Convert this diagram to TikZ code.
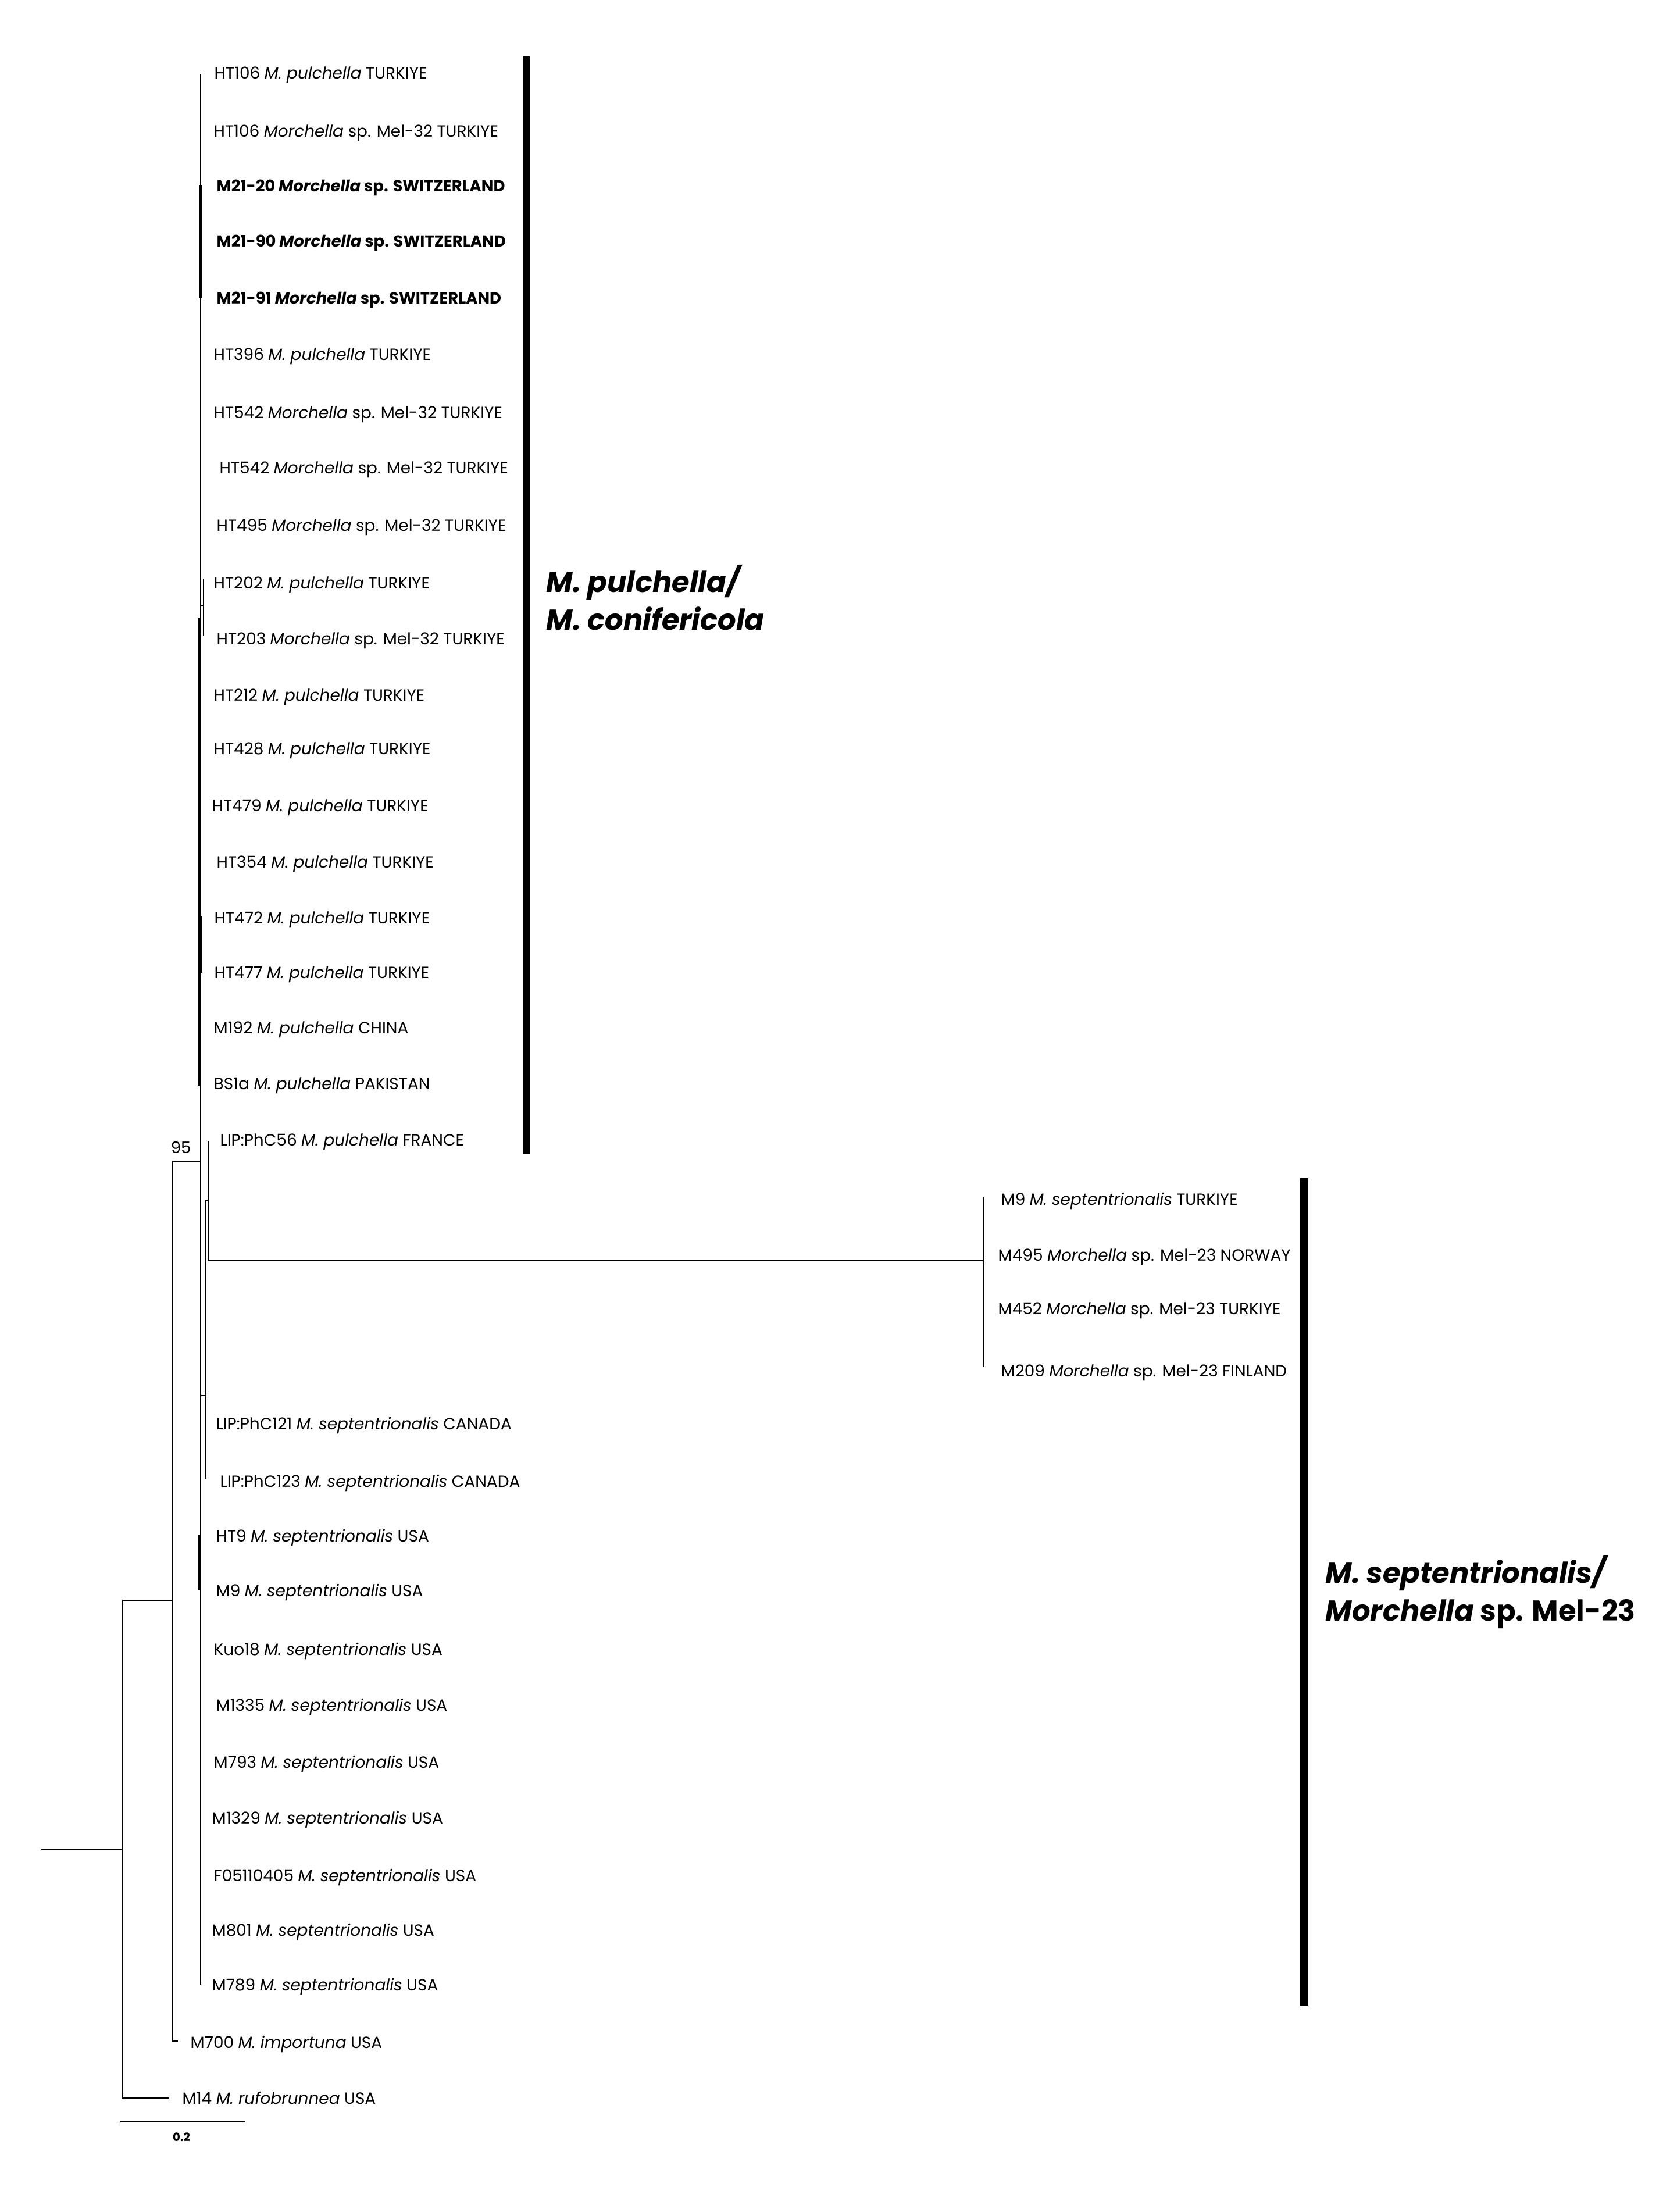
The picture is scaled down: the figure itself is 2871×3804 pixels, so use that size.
\documentclass[tikz,border=0pt]{standalone}
\usepackage{fontspec}
\setmainfont{Poppins}

\newcommand{\mpul}{\textit{M. pulchella}}
\newcommand{\msept}{\textit{M. septentrionalis}}
\newcommand{\morsp}{\textit{Morchella} sp.}

\begin{document}
\begin{tikzpicture}[x=0.01cm, y=-0.01cm,
    branch/.style={line width=0.7pt},
    dense/.style={line width=1.5pt},
    taxon/.style={anchor=base west, inner sep=0pt, font=\fontsize{7.95}{9.5}\selectfont},
    ourtaxon/.style={taxon, font=\fontsize{7.8}{9.5}\selectfont\bfseries},
    cladename/.style={anchor=base west, inner sep=0pt, font=\fontsize{14.1}{17}\selectfont\bfseries\itshape}]
    % Page
    \fill[white] (0,0) rectangle (2871,3804);
    \useasboundingbox (0,0) rectangle (2871,3804);

    % Internal nodes
    \coordinate (root) at (71,3181);
    \coordinate (nE) at (211,3181);
    \coordinate (nD) at (297,2752);
    \coordinate (nC) at (345,1997);
    \coordinate (cTop) at (345,127);
    \coordinate (cBot) at (345,3413);
    \coordinate (nP) at (350,1042);
    \coordinate (pTop) at (350,995);
    \coordinate (pBot) at (350,1093);
    \coordinate (nB) at (354,2400);
    \coordinate (bTop) at (354,2064);
    \coordinate (bBot) at (354,2543);
    \coordinate (aTop) at (358,1962);
    \coordinate (aBot) at (358,2168);
    \coordinate (nMel) at (1691,2168);
    \coordinate (melTop) at (1691,2058);
    \coordinate (melBot) at (1691,2350);
    \coordinate (tipImp) at (306,3510);
    \coordinate (tipRuf) at (290,3608);

    % Branches
    \draw[branch] (root) -- (nE);
    \draw[branch] (nD) -| (nE) |- (tipRuf);
    \draw[branch] (nC) -| (nD) |- (tipImp);
    \draw[branch] (cTop) -- (cBot);
    \draw[branch] (nC |- nP) -- (nP);
    \draw[branch] (pTop) -- (pBot);
    \draw[branch] (nC |- nB) -- (nB);
    \draw[branch] (bTop) -- (bBot);
    \draw[branch] (bTop) -- (aTop |- bTop);
    \draw[branch] (aTop) -- (aBot) -- (nMel);
    \draw[branch] (melTop) -- (melBot);

    % Near-zero branches stacked on the backbone
    \draw[dense] (345,318) -- (345,513);
    \draw[dense] (343,1063) -- (343,1867);
    \draw[line width=2.2pt] (344,1575) -- (344,1673);
    \draw[dense] (343,2640) -- (343,2735);

    % Support value
    \node[anchor=base east, inner sep=0pt, font=\fontsize{7.8}{9}\selectfont] (bs95) at (329,1983) {95};

    % Taxa
    \node[taxon] (t1) at (368,136) {HT106 \mpul{} TURKIYE};
    \node[taxon] (t2) at (367,236) {HT106 \morsp{} Mel-32 TURKIYE};
    \node[ourtaxon] (t3) at (372,330) {M21-20 \morsp{} SWITZERLAND};
    \node[ourtaxon] (t4) at (372,425) {M21-90 \morsp{} SWITZERLAND};
    \node[ourtaxon] (t5) at (372,523) {M21-91 \morsp{} SWITZERLAND};
    \node[taxon] (t6) at (367,620) {HT396 \mpul{} TURKIYE};
    \node[taxon] (t7) at (367,720) {HT542 \morsp{} Mel-32 TURKIYE};
    \node[taxon] (t8) at (377,815) {HT542 \morsp{} Mel-32 TURKIYE};
    \node[taxon] (t9) at (372,914) {HT495 \morsp{} Mel-32 TURKIYE};
    \node[taxon] (t10) at (367,1012) {HT202 \mpul{} TURKIYE};
    \node[taxon] (t11) at (372,1108) {HT203 \morsp{} Mel-32 TURKIYE};
    \node[taxon] (t12) at (367,1205) {HT212 \mpul{} TURKIYE};
    \node[taxon] (t13) at (367,1297) {HT428 \mpul{} TURKIYE};
    \node[taxon] (t14) at (364,1395) {HT479 \mpul{} TURKIYE};
    \node[taxon] (t15) at (372,1492) {HT354 \mpul{} TURKIYE};
    \node[taxon] (t16) at (368,1588) {HT472 \mpul{} TURKIYE};
    \node[taxon] (t17) at (368,1682) {HT477 \mpul{} TURKIYE};
    \node[taxon] (t18) at (367,1777) {M192 \mpul{} CHINA};
    \node[taxon] (t19) at (367,1873) {BS1a \mpul{} PAKISTAN};
    \node[taxon] (t20) at (378,1970) {LIP:PhC56 \mpul{} FRANCE};
    \node[taxon] (t21) at (1721,2072) {M9 \msept{} TURKIYE};
    \node[taxon] (t22) at (1716,2168) {M495 \morsp{} Mel-23 NORWAY};
    \node[taxon] (t23) at (1716,2260) {M452 \morsp{} Mel-23 TURKIYE};
    \node[taxon] (t24) at (1721,2367) {M209 \morsp{} Mel-23 FINLAND};
    \node[taxon] (t25) at (371,2458) {LIP:PhC121 \msept{} CANADA};
    \node[taxon] (t26) at (378,2557) {LIP:PhC123 \msept{} CANADA};
    \node[taxon] (t27) at (371,2651) {HT9 \msept{} USA};
    \node[taxon] (t28) at (371,2745) {M9 \msept{} USA};
    \node[taxon] (t29) at (367,2846) {Kuo18 \msept{} USA};
    \node[taxon] (t30) at (371,2942) {M1335 \msept{} USA};
    \node[taxon] (t31) at (367,3040) {M793 \msept{} USA};
    \node[taxon] (t32) at (364,3136) {M1329 \msept{} USA};
    \node[taxon] (t33) at (367,3235) {F05110405 \msept{} USA};
    \node[taxon] (t34) at (364,3329) {M801 \msept{} USA};
    \node[taxon] (t35) at (364,3423) {M789 \msept{} USA};
    \node[taxon] (t36) at (327,3522) {M700 \textit{M. importuna} USA};
    \node[taxon] (t37) at (313,3618) {M14 \textit{M. rufobrunnea} USA};

    % Clade bars and names
    \fill (900,97) rectangle (911,1984);
    \fill (2236,2026) rectangle (2250,3449);
    \node[cladename] (pulA) at (939,1018) {M. pulchella/};
    \node[cladename] (pulB) at (939,1083) {M. conifericola};
    \node[cladename] (sepA) at (2279,2722) {M. septentrionalis/};
    \node[cladename] (sepB) at (2279,2787) {Morchella\upshape{} sp. Mel-23};

    % Scale bar
    \coordinate (sbL) at (207,3649);
    \coordinate (sbR) at (422,3649);
    \draw[branch] (sbL) -- (sbR);
    \node[anchor=base, inner sep=0pt, font=\fontsize{5.6}{6}\selectfont\bfseries] (sbLabel) at (312,3682) {0.2};
\end{tikzpicture}
\end{document}
